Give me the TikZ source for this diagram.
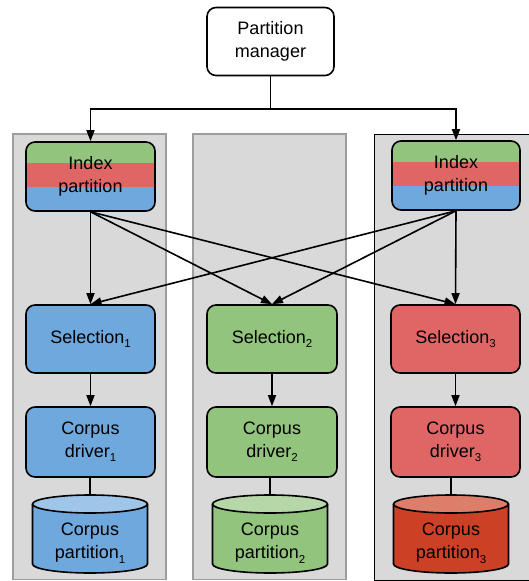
\documentclass[tikz,border=0pt]{standalone}
\usepackage{fontspec}
\setmainfont{Liberation Sans}
\usetikzlibrary{arrows.meta,calc}
\definecolor{colgray}{HTML}{D9D9D9}
\definecolor{colborder}{HTML}{9E9E9E}
\definecolor{gfill}{HTML}{93C47D}
\definecolor{rfill}{HTML}{E06666}
\definecolor{bfill}{HTML}{6FA8DC}
\definecolor{gtop}{HTML}{B6D7A8}
\definecolor{btop}{HTML}{9FC5E8}
\definecolor{rtop}{HTML}{DD7E6B}
\definecolor{rbody}{HTML}{CC4125}
\newcommand{\sub}[1]{\raisebox{-4.5pt}{\fontsize{11.5}{11.5}\selectfont #1}}
\tikzset{
  box/.style={draw=black, line width=1.6pt, rounded corners=9pt, align=center,
    font=\fontsize{18}{22.5}\selectfont, inner sep=0pt},
  column/.style={fill=colgray, draw=colborder, line width=1.5pt},
  arr/.style={line width=1.6pt, -{Triangle[length=11pt,width=8pt]}},
  plain/.style={line width=1.6pt},
  cyltext/.style={align=center, font=\fontsize{18}{23.5}\selectfont, inner sep=0pt},
}
\newcommand{\cyl}[5]{% cx, left, right, body color, top color
  \fill[#4] (#2,-504) -- (#2,-564) arc[start angle=180,end angle=360,x radius=57.5pt,y radius=9pt] -- (#3,-504) -- cycle;
  \draw[line width=1.6pt] (#2,-504) -- (#2,-564) arc[start angle=180,end angle=360,x radius=57.5pt,y radius=9pt] -- (#3,-504);
  \draw[line width=1.6pt, fill=#5] (#1,-504) ellipse[x radius=57.5pt, y radius=9pt];
}
\begin{document}
\begin{tikzpicture}[x=1pt,y=1pt]
\useasboundingbox (0,0) rectangle (529,-581);
% columns
\draw[column] (13,-134) rectangle (166,-579.5);
\draw[column] (193,-134) rectangle (346,-579.5);
\draw[fill=colgray, draw=black, line width=1pt] (374.5,-134) rectangle (530,-580.5);

% partition manager
\node[box, fill=white, minimum width=127pt, minimum height=68pt] (pm) at (270.5,-41.5) {Partition\\manager};

% index partitions
\tikzset{stripes/.style={path picture={
  \fill[gfill, sharp corners] (path picture bounding box.north west) rectangle ($(path picture bounding box.north east)!0.30!(path picture bounding box.south east)$);
  \fill[rfill, sharp corners] ($(path picture bounding box.north west)!0.30!(path picture bounding box.south west)$) rectangle ($(path picture bounding box.north east)!0.65!(path picture bounding box.south east)$);
  \fill[bfill, sharp corners] ($(path picture bounding box.north west)!0.65!(path picture bounding box.south west)$) rectangle (path picture bounding box.south east);
}}}
\node[box, stripes, minimum width=129pt, minimum height=69pt] (i1) at (90.5,-176.5) {Index\\partition};
\node[box, stripes, minimum width=128pt, minimum height=69pt] (i3) at (456,-175.5) {Index\\partition};

% selections
\node[box, fill=bfill, minimum width=129pt, minimum height=68pt] (s1) at (90.5,-339) {Selection\sub{1}};
\node[box, fill=gfill, minimum width=130pt, minimum height=68pt] (s2) at (272,-339) {Selection\sub{2}};
\node[box, fill=rfill, minimum width=129pt, minimum height=68pt] (s3) at (455.5,-339) {Selection\sub{3}};

% drivers
\node[box, fill=bfill, minimum width=129pt, minimum height=70pt] (d1) at (90.5,-442) {Corpus\\driver\sub{1}};
\node[box, fill=gfill, minimum width=130pt, minimum height=70pt] (d2) at (272,-442) {Corpus\\driver\sub{2}};
\node[box, fill=rfill, minimum width=129pt, minimum height=70pt] (d3) at (455.5,-442) {Corpus\\driver\sub{3}};

% cylinders
\cyl{90}{32.5}{147.5}{bfill}{btop}
\cyl{270}{212.5}{327.5}{gfill}{gtop}
\cyl{451}{393.5}{508.5}{rbody}{rtop}
\node[cyltext] (c1) at (90,-543) {Corpus\\partition\sub{1}};
\node[cyltext] (c2) at (270,-543) {Corpus\\partition\sub{2}};
\node[cyltext] (c3) at (451,-543) {Corpus\\partition\sub{3}};
\coordinate (t1) at (90,-495);
\coordinate (t2) at (270,-495);
\coordinate (t3) at (451,-495);

% connectors
\coordinate (split) at ($(pm.south)+(0,-32.5)$);
\draw[plain] (pm.south) -- (split);
\draw[arr] (split) -| (i1.north);
\draw[arr] (split) -| (i3.north);

\foreach \s in {s1,s2,s3} {
  \draw[arr] (i1.south) -- (\s.north);
  \draw[arr] (i3.south) -- (\s.north);
}
\draw[arr] (s1) -- (d1);
\draw[arr] (s2) -- (d2);
\draw[arr] (s3) -- (d3);
\draw[plain] (d1.south -| t1) -- (t1);
\draw[plain] (d2.south -| t2) -- (t2);
\draw[plain] (d3.south -| t3) -- (t3);
\end{tikzpicture}
\end{document}
